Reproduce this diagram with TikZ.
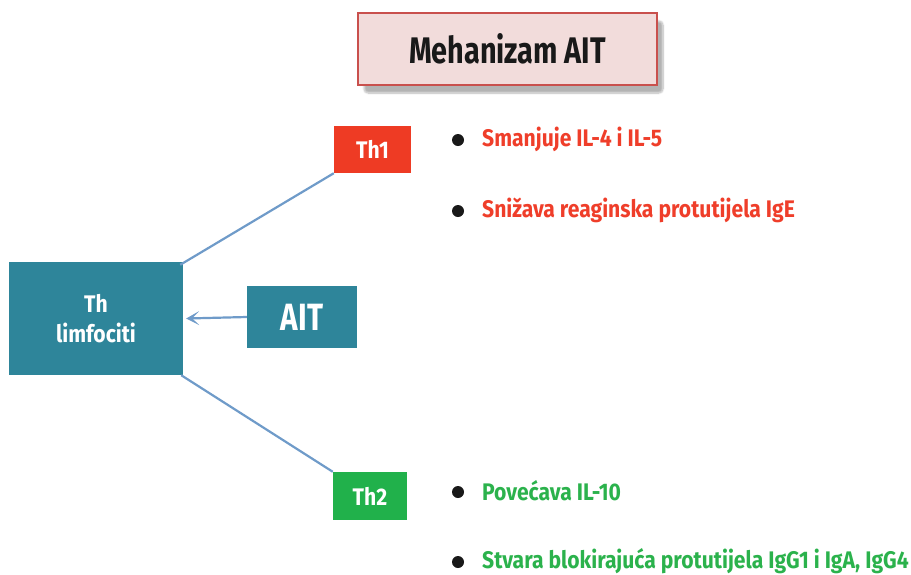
\documentclass[tikz,border=0pt]{standalone}
\usepackage{fontspec}
\newfontfamily\condbold{Fira Sans Bold}[FakeStretch=0.88]
\newfontfamily\titlebold{Fira Sans Bold}[FakeStretch=0.78]
\usepackage{xcolor}
\usetikzlibrary{arrows.meta,shadows.blur}
\definecolor{thteal}{HTML}{2E859A}
\definecolor{thred}{HTML}{EE3B24}
\definecolor{thgreen}{HTML}{21B14B}
\definecolor{linkblue}{HTML}{6F9BC9}
\definecolor{titlefill}{HTML}{F2DCDB}
\definecolor{titleline}{HTML}{C9504D}
\definecolor{redtext}{HTML}{EF3E2A}
\definecolor{greentext}{HTML}{2BB24C}

\begin{document}
\begin{tikzpicture}[x=1pt, y=-1pt,
    box/.style={minimum width=#1, inner sep=0pt, text=white, font=\condbold\fontsize{24}{30}\selectfont, align=center},
    link/.style={draw=linkblue, line width=2.2pt},
    dot/.style={circle, fill=black!90, minimum size=12pt, inner sep=0pt},
    effect/.style={anchor=west, inner sep=0pt, font=\condbold\fontsize{24}{28}\selectfont}]
  \useasboundingbox (0,0) rectangle (911,574);
  % title
  \node[box=299pt, minimum height=72pt, fill=titlefill, draw=titleline, line width=2pt, text=black!90,
        font=\titlebold\fontsize{37}{40}\selectfont,
        blur shadow={shadow xshift=6pt, shadow yshift=-8pt, shadow blur steps=8, shadow blur extra rounding=4pt, shadow opacity=30}]
    (title) at (507.5, 49) {Mehanizam AIT};
  % cells
  \node[box=174pt, minimum height=113pt, fill=thteal] (th) at (96, 318.5) {Th\\limfociti};
  \node[box=110pt, minimum height=62pt, fill=thteal, font=\titlebold\fontsize{38}{40}\selectfont] (ait) at (302, 317) {AIT};
  \node[box=77pt, minimum height=47pt, fill=thred] (th1) at (372.5, 149.5) {Th1};
  \node[box=74pt, minimum height=48pt, fill=thgreen] (th2) at (370, 496) {Th2};
  \draw[link] ([xshift=-3pt, yshift=-3pt]th.north east) -- (th1.south west);
  \draw[link] ([xshift=-2pt]th.south east) -- (th2.north west);
  \draw[link, -{Stealth[length=13pt, width=14pt, inset=7pt]}] (ait.west) -- ([xshift=3pt]th.east);
  % effects
  \node[dot] (d1) at (458, 140) {};
  \node[effect, text=redtext] (e1) at (482, 139) {Smanjuje IL-4 i IL-5};
  \node[dot] (d2) at (458, 211) {};
  \node[effect, text=redtext] (e2) at (482, 210) {Snižava reaginska protutijela IgE};
  \node[dot] (d3) at (458, 492) {};
  \node[effect, text=greentext] (e3) at (482, 491) {Povećava IL-10};
  \node[dot] (d4) at (458, 562) {};
  \node[effect, text=greentext] (e4) at (482, 561) {Stvara blokirajuća protutijela IgG1 i IgA, IgG4};
\end{tikzpicture}
\end{document}
